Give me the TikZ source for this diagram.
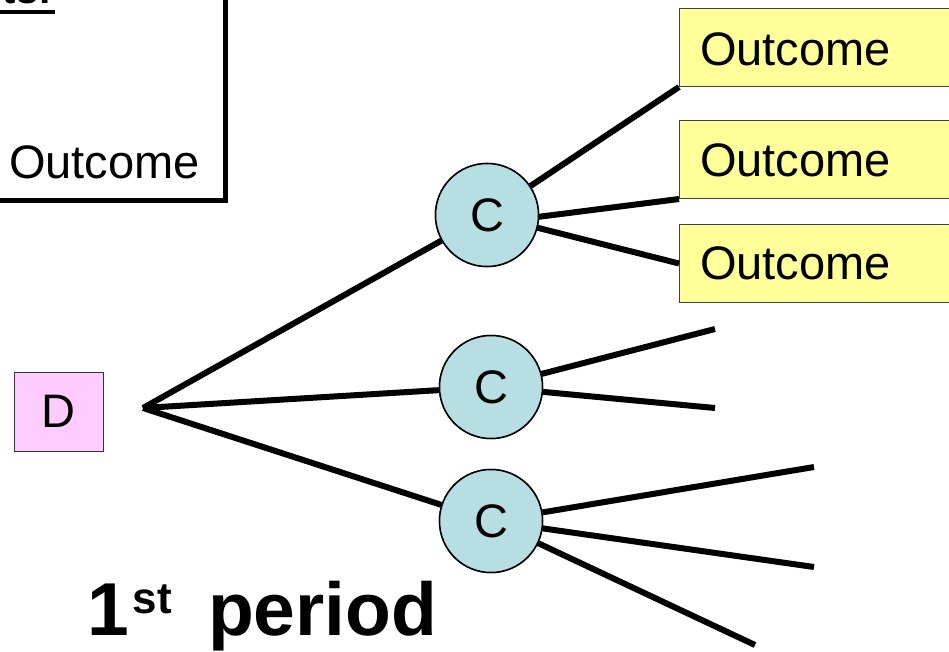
\documentclass[tikz,border=0pt]{standalone}
\usepackage{fontspec}
\setmainfont{Liberation Sans}
\begin{document}
\begin{tikzpicture}[x=1pt,y=-1pt,
  outbox/.style={draw=black!75, line width=1pt, fill=yellowbox, minimum height=78pt, inner sep=0pt, anchor=north west},
  chance/.style={circle, draw=black, line width=1.5pt, fill=chanceblue, minimum size=103pt, inner sep=0pt, font=\fontsize{47}{47}\selectfont},
  branch/.style={line width=6pt},
  lbl/.style={font=\fontsize{47}{47}\selectfont, inner sep=0pt, anchor=base west}]
\definecolor{yellowbox}{HTML}{FFFF99}
\definecolor{chanceblue}{HTML}{B7DEE3}
\definecolor{pinkbox}{HTML}{FFCCFF}
\useasboundingbox (0,0) rectangle (949,652);
\clip (0,0) rectangle (949,652);
\fill[white] (0,0) rectangle (949,652);
% legend box (cropped)
\draw[line width=5pt] (-20,-20) -- (225,-20) -- (225,201) -- (-20,201);
\node[font=\bfseries\fontsize{40}{40}\selectfont, inner sep=0pt, anchor=base east] (leg) at (52,4) {Elements:};
\draw[line width=4pt] (-5,12) -- (55,12);
\node[lbl] (legout) at (9,179) {Outcome};
% outcome boxes
\node[outbox, minimum width=300pt] (o1) at (679,8) {};
\node[lbl] at (700,66) {Outcome};
\node[outbox, minimum width=300pt] (o2) at (679,120) {};
\node[lbl] at (700,177) {Outcome};
\node[outbox, minimum width=300pt] (o3) at (679,224) {};
\node[lbl] at (700,279) {Outcome};
% decision
\node[draw=black!80, line width=1pt, fill=pinkbox, minimum width=89pt, minimum height=79pt, inner sep=0pt, font=\fontsize{47}{47}\selectfont] (d) at (58.5,411.5) {D};
\coordinate (b) at (143,408);
% chance nodes
\node[chance] (c1) at (487,215) {C};
\node[chance] (c2) at (491,387) {C};
\node[chance] (c3) at (491,521) {C};
% free ends
\coordinate (e21) at (715,329);
\coordinate (e22) at (715,408);
\coordinate (e31) at (814,467);
\coordinate (e32) at (814,567);
\coordinate (e33) at (755,645);
\draw[branch] (b) -- (c1);
\draw[branch] (b) -- (c2);
\draw[branch] (b) -- (c3);
\draw[branch] (c1) -- (o1.south west);
\draw[branch] (c1.east) ++(-2,2) -- (o2.south west);
\draw[branch] (c1) -- (o3.west);
\draw[branch] (c2) -- (e21);
\draw[branch] (c2) -- (e22);
\draw[branch] (c3) -- (e31);
\draw[branch] (c3) -- (e32);
\draw[branch] (c3) -- (e33);
% redraw nodes on top
\node[chance] at (c1) {C};
\node[chance] at (c2) {C};
\node[chance] at (c3) {C};
\node[font=\bfseries\fontsize{75}{75}\selectfont, inner sep=0pt, anchor=base west] (per) at (87,635) {1\hspace{4pt}\raisebox{22pt}{\fontsize{44}{44}\selectfont st}\hspace{36pt}period};
\end{tikzpicture}
\end{document}
